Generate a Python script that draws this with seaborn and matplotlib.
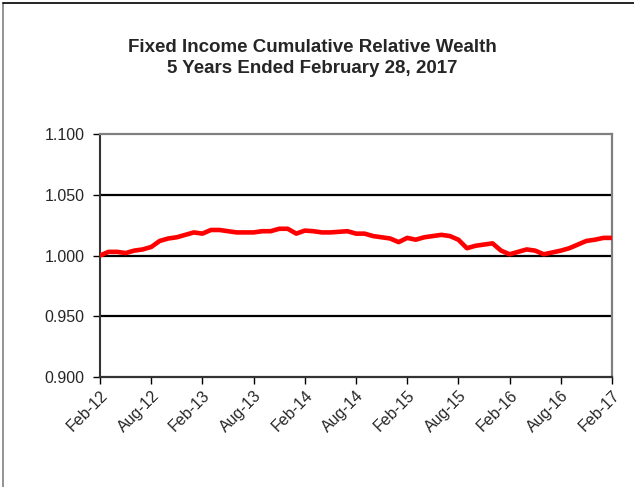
import matplotlib
matplotlib.use("Agg")
import matplotlib.pyplot as plt
import matplotlib.transforms as mtransforms
from matplotlib.lines import Line2D
import seaborn as sns
import pandas as pd
import numpy as np

title_text = "Fixed Income Cumulative Relative Wealth\n5 Years Ended February 28, 2017"

wealth = [
    1.000, 1.003, 1.003, 1.002, 1.004, 1.005, 1.007, 1.012, 1.014, 1.015,
    1.017, 1.019, 1.018, 1.021, 1.021, 1.020, 1.019, 1.019, 1.019, 1.020,
    1.020, 1.022, 1.022, 1.018, 1.0205, 1.020, 1.019, 1.019, 1.0195, 1.020,
    1.018, 1.018, 1.016, 1.015, 1.014, 1.011, 1.0145, 1.013, 1.015, 1.016,
    1.017, 1.016, 1.013, 1.006, 1.008, 1.009, 1.010, 1.004, 1.001, 1.003,
    1.005, 1.004, 1.001, 1.0025, 1.004, 1.006, 1.009, 1.012, 1.013, 1.0145,
    1.0145,
]
tick_labels = ["Feb-12", "Aug-12", "Feb-13", "Aug-13", "Feb-14", "Aug-14",
               "Feb-15", "Aug-15", "Feb-16", "Aug-16", "Feb-17"]
y_ticks = [0.900, 0.950, 1.000, 1.050, 1.100]

df = pd.DataFrame({"month": np.arange(len(wealth)), "wealth": wealth})

sns.set_style("white")
plt.rcParams["font.family"] = ["Liberation Sans", "DejaVu Sans"]

fig = plt.figure(figsize=(6.34, 4.87), dpi=100)
ax = fig.add_axes([100/634, 1 - 377/487, 512/634, 243/487])

sns.lineplot(data=df, x="month", y="wealth", ax=ax, color="#ff0000", linewidth=3.3, zorder=3)

ax.set_xlim(0, len(wealth) - 1)
ax.set_ylim(0.900, 1.100)
ax.set_yticks(y_ticks)
ax.set_yticklabels([f"{v:.3f}" for v in y_ticks], fontsize=11.5)
ax.set_xticks(np.arange(0, len(wealth), 6))
ax.set_xticklabels(tick_labels, rotation=45, ha="right", rotation_mode="anchor", fontsize=11.5)
ax.set_xlabel("")
ax.set_ylabel("")

offset = mtransforms.ScaledTranslation(4/100, 0, fig.dpi_scale_trans)
for lbl in ax.get_xticklabels():
    lbl.set_transform(lbl.get_transform() + offset)

for v in y_ticks[1:4]:
    ax.axhline(v, color="black", linewidth=1.6, zorder=1)

ax.tick_params(axis="x", direction="out", length=5, width=1, color="black",
               bottom=True, pad=3)
ax.tick_params(axis="y", direction="out", length=5, width=1, color="black",
               left=True, pad=6)
ax.spines["left"].set_color("#333333")
ax.spines["left"].set_linewidth(1.5)
ax.spines["bottom"].set_color("#333333")
ax.spines["bottom"].set_linewidth(1.6)
ax.spines["right"].set_color("#808080")
ax.spines["right"].set_linewidth(1.6)
ax.spines["top"].set_color("#808080")
ax.spines["top"].set_linewidth(1.6)

fig.text(312/634, 1 - 58/487, title_text, ha="center", va="center",
         fontsize=13.5, fontweight="bold", linespacing=1.35)

fig.add_artist(Line2D([3/634, 3/634], [0, 1 - 3/487], color="#808080", linewidth=1.2,
                      transform=fig.transFigure))
fig.add_artist(Line2D([3/634, 1], [1 - 3/487, 1 - 3/487], color="black", linewidth=1.2,
                      transform=fig.transFigure))

fig.savefig("out.png", dpi=100)
